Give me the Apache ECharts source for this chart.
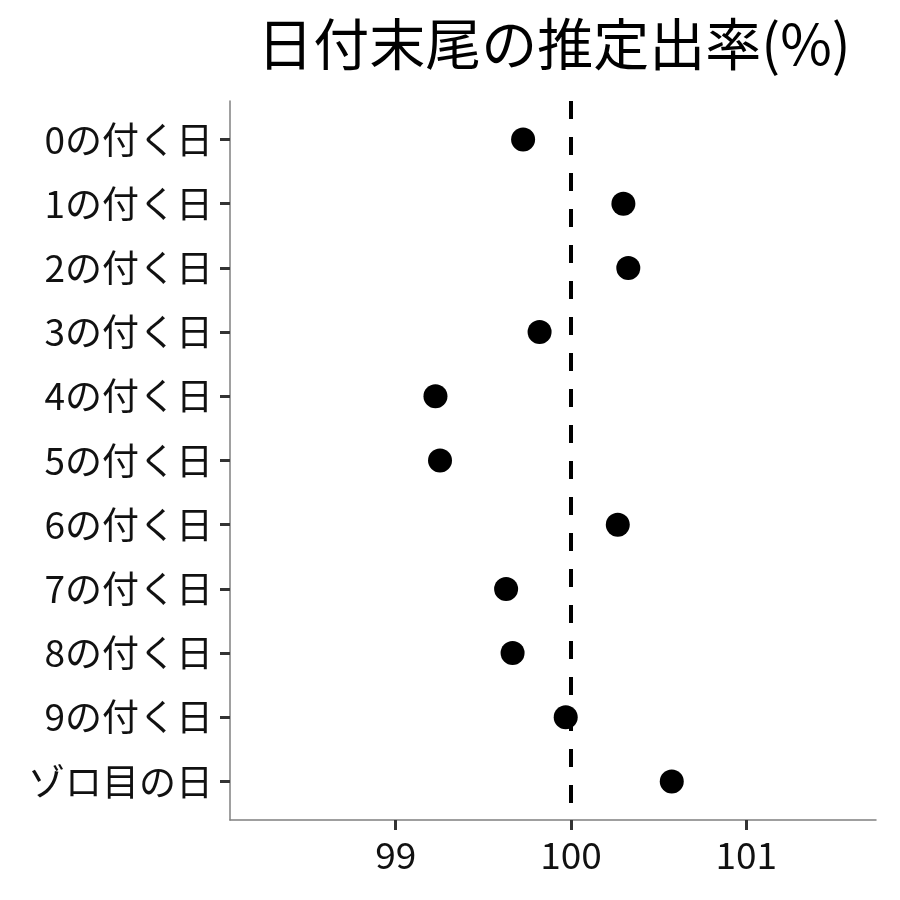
<!DOCTYPE html>
<html>
<head>
<meta charset="utf-8">
<script src="https://cdn.jsdelivr.net/npm/echarts@6/dist/echarts.min.js"></script>
<style>
html,body{margin:0;padding:0;background:#fff;}
#c{width:900px;height:900px;}
</style>
</head>
<body>
<div id="c"></div>
<script>
const categories = ['0の付く日','1の付く日','2の付く日','3の付く日','4の付く日','5の付く日','6の付く日','7の付く日','8の付く日','9の付く日','ゾロ目の日'];
const values = [99.727, 100.299, 100.327, 99.821, 99.227, 99.253, 100.267, 99.630, 99.667, 99.970, 100.575];
const xTicks = [99, 100, 101];
const refValue = 100;
const titleText = '日付末尾の推定出率(%)';

const FONT = '"Noto Sans CJK JP", "Noto Sans", sans-serif';
const chart = echarts.init(document.getElementById('c'), null, {renderer: 'canvas'});
const idx = categories.map((_, i) => i);

chart.setOption({
  animation: false,
  backgroundColor: '#ffffff',
  title: {
    text: titleText,
    left: 549,
    textAlign: 'center',
    top: 11,
    textStyle: {fontFamily: FONT, fontSize: 56, fontWeight: 'normal', color: '#000'}
  },
  grid: {left: 230, right: 24, top: 101, bottom: 80, containLabel: false},
  xAxis: {
    type: 'value',
    min: 98.055,
    max: 101.74,
    axisLine: {show: true, onZero: false, lineStyle: {color: '#808080', width: 1.5}},
    axisTick: {show: true, customValues: xTicks, length: 10, lineStyle: {color: '#333', width: 3}},
    axisLabel: {show: true, customValues: xTicks, margin: 16, fontFamily: FONT, fontSize: 37, color: '#111'},
    splitLine: {show: false}
  },
  yAxis: {
    type: 'value',
    min: -0.6,
    max: categories.length - 1 + 0.6,
    inverse: true,
    axisLine: {show: true, onZero: false, lineStyle: {color: '#808080', width: 1.5}},
    axisTick: {show: true, customValues: idx, length: 10, lineStyle: {color: '#333', width: 3}},
    axisLabel: {show: true, customValues: idx, margin: 17, fontFamily: FONT, fontSize: 37, color: '#111',
      formatter: v => categories[Math.round(v)] || ''},
    splitLine: {show: false}
  },
  series: [{
    type: 'scatter',
    symbol: 'circle',
    symbolSize: 24,
    itemStyle: {color: '#000', opacity: 1},
    data: values.map((v, i) => [v, i]),
    markLine: {
      silent: true,
      symbol: 'none',
      label: {show: false},
      lineStyle: {color: '#000', width: 4, type: [18, 18], opacity: 1},
      data: [{xAxis: refValue}]
    },
    z: 3
  }]
});
</script>
</body>
</html>
